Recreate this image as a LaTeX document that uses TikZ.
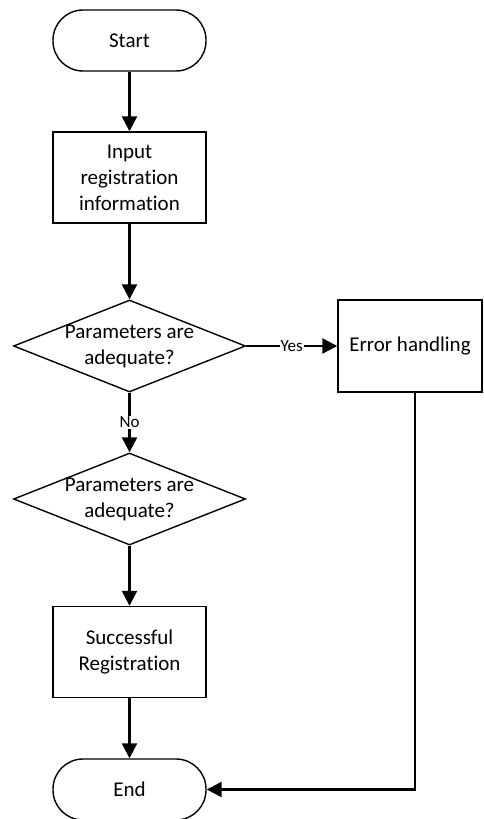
\documentclass[tikz,border=0pt]{standalone}
\usepackage{fontspec}
\setmainfont{Carlito}[Ligatures=NoCommon]
\usetikzlibrary{shapes.geometric,arrows.meta}
\begin{document}
\begin{tikzpicture}[x=1pt,y=1pt,
  base/.style={draw, line width=1.4pt, font=\fontsize{21}{26}\selectfont, align=center, inner sep=0pt},
  terminal/.style={base, rounded corners=30pt, minimum width=153pt, minimum height=61pt},
  process/.style={base, minimum width=153pt, minimum height=91pt},
  decision/.style={base, diamond, minimum width=232pt, minimum height=92pt},
  flow/.style={line width=2.3pt, -{Triangle[length=15pt,width=15pt]}},
  tag/.style={font=\fontsize{17}{20}\selectfont, fill=white, inner sep=1pt}
]
\useasboundingbox (0,0) rectangle (483,-819);

% main column
\node[terminal] (start) at (129.5,-40.5) {Start};
\node[process] (input) at (129.5,-177.5) {Input\\registration\\information};
\node[decision, label={[font=\fontsize{21}{26}\selectfont, align=center]center:Parameters are\\adequate?}] (check1) at (129.5,-346) {};
\node[decision, label={[font=\fontsize{21}{26}\selectfont, align=center]center:Parameters are\\adequate?}] (check2) at (129.5,-499) {};
\node[process] (success) at (129.5,-652) {Successful\\Registration};
\node[terminal] (end) at (129.5,-789.5) {End};

% side branch
\node[process, minimum width=144pt, minimum height=92pt] (error) at (410,-346) {Error handling};

% connectors
\draw[flow] (start) -- (input);
\draw[flow] (input) -- (check1);
\draw[flow] (check1) -- node[tag] {Yes} (error);
\draw[flow] (check1) -- node[tag] {No} (check2);
\draw[flow] (check2) -- (success);
\draw[flow] (success) -- (end);
\draw[flow] (error.south -| 415,0) |- (end.east);
\end{tikzpicture}
\end{document}
